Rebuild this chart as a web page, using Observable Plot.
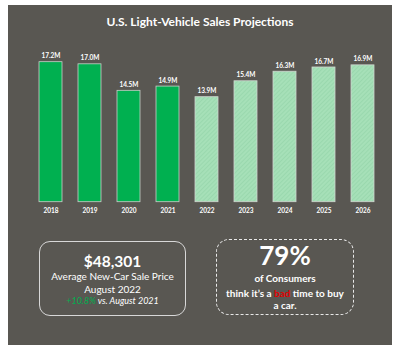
<!DOCTYPE html>
<html>
<head>
<meta charset="utf-8">
<script src="https://cdn.jsdelivr.net/npm/d3@7"></script>
<script src="https://cdn.jsdelivr.net/npm/@observablehq/plot@0.6"></script>
<style>
  html, body { margin: 0; padding: 0; background: #ffffff; }
  body { width: 400px; height: 351px; position: relative; overflow: hidden; font-family: Lato, "Open Sans", sans-serif; }
  #panel { position: absolute; left: 8px; top: 5px; width: 384px; height: 340px; background: #595752; }
  #title { position: absolute; left: 0; top: 15px; width: 400px; text-align: center; color: #ffffff; font-weight: 700; font-size: 12px; line-height: 14px; }
  #chart { position: absolute; left: 0; top: 0; }
  .box { position: absolute; box-sizing: border-box; color: #ffffff; text-align: center; }
  #box1 { left: 39px; top: 241px; width: 147px; height: 75px; border: 1px solid #d8d8d8; border-radius: 11px; }
  #box2 { left: 216px; top: 239px; width: 138px; height: 76px; border: 1.3px dashed #e8e8e8; border-radius: 13px; }
  .t { position: absolute; left: 0; width: 100%; white-space: nowrap; }
</style>
</head>
<body>
<div id="panel"></div>
<div id="title">U.S. Light-Vehicle Sales Projections</div>
<div id="chart"></div>
<div class="box" id="box1">
  <div class="t" style="top:10px;font-size:15.5px;font-weight:700;line-height:18px;">$48,301</div>
  <div class="t" style="top:28px;font-size:10px;line-height:12px;">Average New-Car Sale Price</div>
  <div class="t" style="top:41px;font-size:10px;line-height:12px;">August 2022</div>
  <div class="t" style="top:54px;font-size:9px;font-style:italic;line-height:10px;"><span style="color:#00b050">+10.8%</span> vs. August 2021</div>
</div>
<div class="box" id="box2">
  <div class="t" style="top:2px;font-size:26px;font-weight:700;line-height:26px;">79%</div>
  <div class="t" style="top:32px;font-size:10px;font-weight:700;line-height:12px;">of Consumers</div>
  <div class="t" style="top:47px;font-size:10px;font-weight:700;line-height:12px;">think it’s a <span style="color:#e00000">bad</span> time to buy</div>
  <div class="t" style="top:59px;font-size:10px;font-weight:700;line-height:12px;">a car.</div>
</div>
<script>
const years = ["2018", "2019", "2020", "2021", "2022", "2023", "2024", "2025", "2026"];
const sales = [17.2, 17.0, 14.5, 14.9, 13.9, 15.4, 16.3, 16.7, 16.9];
const labels = ["17.2M", "17.0M", "14.5M", "14.9M", "13.9M", "15.4M", "16.3M", "16.7M", "16.9M"];
const projected = [false, false, false, false, true, true, true, true, true];

const data = years.map((y, i) => ({year: y, value: sales[i], label: labels[i], proj: projected[i]}));

const plot = Plot.plot({
  width: 400,
  height: 230,
  marginLeft: 29,
  marginRight: 17,
  marginTop: 40,
  marginBottom: 28.3,
  style: {background: "transparent", fontFamily: "Lato, 'Open Sans', sans-serif"},
  x: {domain: years, paddingInner: 0.42, paddingOuter: 0.21, label: null},
  y: {domain: [4, 18], range: [201.7, 53.2], axis: null},
  marks: [
    Plot.barY(data.filter(d => !d.proj), {x: "year", y1: 4, y2: "value", fill: "#00b050", stroke: "#c9cfc9", strokeWidth: 0.8}),
    Plot.barY(data.filter(d => d.proj), {x: "year", y1: 4, y2: "value", fill: "url(#hatch)", stroke: "#d0d6d0", strokeWidth: 0.8}),
    Plot.ruleY([4], {x1: 29, x2: 383, stroke: "#a0a09c", strokeWidth: 1}),
    Plot.text(data, {x: "year", y: "value", text: "label", dy: -6, fill: "#ffffff", fontSize: 6.5, fontWeight: 700}),
    Plot.axisX({tickSize: 0, tickPadding: 6, fontSize: 6.5, fontWeight: 700, color: "#ffffff", label: null})
  ]
});

const svg = d3.select(plot);
const defs = svg.insert("defs", ":first-child");
const pat = defs.append("pattern").attr("id", "hatch").attr("patternUnits", "userSpaceOnUse")
  .attr("width", 3).attr("height", 3).attr("patternTransform", "rotate(45)");
pat.append("rect").attr("width", 3).attr("height", 3).attr("fill", "#a6e0b8");
pat.append("line").attr("x1", 0).attr("y1", 0).attr("x2", 0).attr("y2", 3)
  .attr("stroke", "#8fd0a4").attr("stroke-width", 1);

document.getElementById("chart").appendChild(plot);
</script>
</body>
</html>
